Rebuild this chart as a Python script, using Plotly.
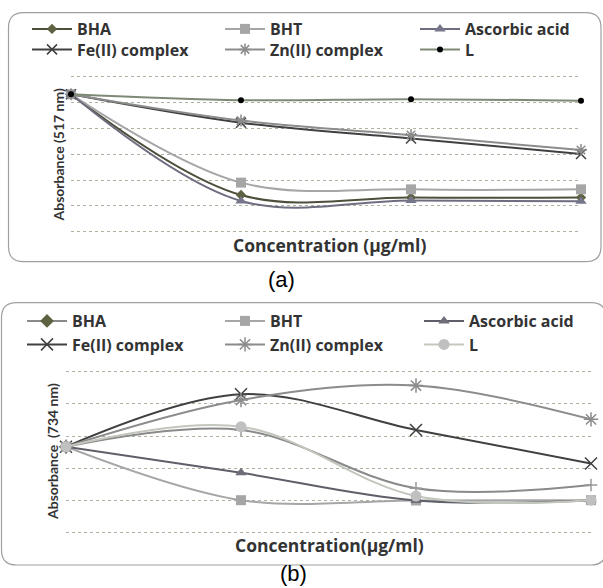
import plotly.graph_objects as go

W, H = 603, 588

# ---------------- data ----------------
conc_index = [0, 1, 2, 3]   # concentration levels (no tick labels shown)

# panel (a): DPPH, absorbance at 517 nm (grid units)
a_BHA = [5.32, 1.42, 1.32, 1.32]
a_BHT = [5.32, 1.90, 1.64, 1.64]
a_Asc = [5.32, 1.19, 1.21, 1.18]
a_Fe = [5.32, 4.22, 3.61, 3.01]
a_Zn = [5.32, 4.30, 3.74, 3.16]
a_L = [5.32, 5.09, 5.13, 5.07]

# panel (b): ABTS, absorbance at 734 nm (grid units)
b_BHA = [2.67, 3.19, 1.38, 1.48]
b_BHT = [2.67, 1.01, 1.00, 1.01]
b_Asc = [2.67, 1.86, 1.00, 1.00]
b_Fe = [2.67, 4.30, 3.19, 2.15]
b_Zn = [2.67, 4.12, 4.57, 3.52]
b_L = [2.67, 3.29, 1.14, 1.01]

names = ["BHA", "BHT", "Ascorbic acid", "Fe(II) complex", "Zn(II) complex", "L"]

# ---------------- helpers ----------------
def px_x(v):
    return v / W

def px_y(v):
    return 1 - v / H

FONT = "Open Sans"
fig = go.Figure()
legends = {}
leg_count = [0]

def new_legend(xp, yp):
    leg_count[0] += 1
    key = "legend" if leg_count[0] == 1 else f"legend{leg_count[0]}"
    legends[key] = dict(
        orientation="v", bgcolor="rgba(0,0,0,0)", borderwidth=0,
        font=dict(family=FONT, size=16, color="#333333", weight="bold"),
        xanchor="left", yanchor="middle", itemwidth=40,
        x=px_x(xp), y=px_y(yp))
    return key

def add(xa, ya, y, name, lpos, line_color, symbol, mcolor, msize, mline=0):
    fig.add_trace(go.Scatter(
        x=conc_index, y=y, name=name, mode="lines+markers",
        xaxis=xa, yaxis=ya, legend=new_legend(*lpos), showlegend=True,
        line=dict(color=line_color, width=2, shape="spline"),
        marker=dict(symbol=symbol, color=mcolor, size=msize,
                    line=dict(width=mline, color=mcolor)),
        cliponaxis=False,
    ))

colx_a = [27, 220, 415]
rowy_a = [29, 49.5]
colx_b = [22, 220, 419]
rowy_b = [321, 344.5]

# panel (a) traces
add("x", "y", a_BHA, names[0], (colx_a[0], rowy_a[0]), "#4d4f3b", "diamond", "#5e6142", 8)
add("x", "y", a_BHT, names[1], (colx_a[1], rowy_a[0]), "#a6a6a6", "square", "#a6a6a6", 10)
add("x", "y", a_Asc, names[2], (colx_a[2], rowy_a[0]), "#6e6e80", "triangle-up", "#76768a", 10)
add("x", "y", a_Fe, names[3], (colx_a[0], rowy_a[1]), "#404040", "x-thin-open", "#404040", 10, 1.5)
add("x", "y", a_Zn, names[4], (colx_a[1], rowy_a[1]), "#8c8c8c", "asterisk-open", "#8c8c8c", 10, 1.5)
add("x", "y", a_L, names[5], (colx_a[2], rowy_a[1]), "#7f8a76", "circle", "#000000", 6)

# panel (b) traces
bha_sym = ["diamond", "cross-thin-open", "cross-thin-open", "cross-thin-open"]
bha_col = ["#5e6142", "#9a9a9a", "#9a9a9a", "#9a9a9a"]
fig.add_trace(go.Scatter(
    x=conc_index, y=b_BHA, name=names[0], mode="lines+markers",
    xaxis="x2", yaxis="y2", legend=new_legend(colx_b[0], rowy_b[0]), showlegend=True,
    line=dict(color="#8a8a8a", width=2, shape="spline"),
    marker=dict(symbol=bha_sym, color=bha_col, size=9,
                line=dict(width=1.5, color=bha_col)),
    cliponaxis=False,
))
add("x2", "y2", b_BHT, names[1], (colx_b[1], rowy_b[0]), "#a6a6a6", "square", "#a6a6a6", 10)
add("x2", "y2", b_Asc, names[2], (colx_b[2], rowy_b[0]), "#5f5f6a", "triangle-up", "#6e6e7a", 10)
add("x2", "y2", b_Fe, names[3], (colx_b[0], rowy_b[1]), "#404040", "x-thin-open", "#404040", 12, 1.5)
add("x2", "y2", b_Zn, names[4], (colx_b[1], rowy_b[1]), "#8c8c8c", "asterisk-open", "#8c8c8c", 12, 1.5)
add("x2", "y2", b_L, names[5], (colx_b[2], rowy_b[1]), "#c2c7bd", "circle", "#c0c0c0", 11)

grid = dict(showgrid=True, gridcolor="#a9b39e", griddash="dot", gridwidth=1,
            zeroline=False, showline=False, showticklabels=False, ticks="", dtick=1)
noax = dict(showgrid=False, zeroline=False, showline=False, showticklabels=False, ticks="")

EXT = 0.04
def ydom(top_px, bot_px, n):
    p = (bot_px - top_px) / n
    return [px_y(bot_px + EXT * p), px_y(top_px - EXT * p)]

fig.update_layout(
    width=W, height=H, margin=dict(l=0, r=0, t=0, b=0),
    paper_bgcolor="white", plot_bgcolor="white", showlegend=True,
    xaxis=dict(domain=[px_x(71), px_x(581)], range=[0, 3], **noax),
    yaxis=dict(domain=ydom(76.7, 231.7, 6), range=[-EXT, 6 + EXT], **grid),
    xaxis2=dict(domain=[px_x(66), px_x(591)], range=[0, 3], anchor="y2", **noax),
    yaxis2=dict(domain=ydom(371.7, 532.7, 5), range=[-EXT, 5 + EXT], anchor="x2", **grid),
    **legends,
)

# rounded panel borders
def rrect(x0, y0, x1, y1, r):
    X = lambda v: v / W
    Y = lambda v: 1 - v / H
    return (f"M{X(x0 + r)},{Y(y0)} L{X(x1 - r)},{Y(y0)} "
            f"Q{X(x1)},{Y(y0)} {X(x1)},{Y(y0 + r)} L{X(x1)},{Y(y1 - r)} "
            f"Q{X(x1)},{Y(y1)} {X(x1 - r)},{Y(y1)} L{X(x0 + r)},{Y(y1)} "
            f"Q{X(x0)},{Y(y1)} {X(x0)},{Y(y1 - r)} L{X(x0)},{Y(y0 + r)} "
            f"Q{X(x0)},{Y(y0)} {X(x0 + r)},{Y(y0)} Z")

for box in [(8.5, 12.7, 601, 261.7), (1.5, 302.7, 606, 565)]:
    fig.add_shape(type="path", xref="paper", yref="paper",
                  path=rrect(*box, 15), line=dict(color="#a0a0a0", width=1.2),
                  layer="below")

def ann(text, xp, yp, size, angle=0, bold=True, family=FONT, color="#333333", yanchor="middle"):
    fig.add_annotation(text=text, x=px_x(xp), y=px_y(yp), xref="paper", yref="paper",
                       showarrow=False, textangle=angle, xanchor="center", yanchor=yanchor,
                       font=dict(family=family, size=size, color=color,
                                 weight="bold" if bold else "normal"))

ann("Absorbance (517 nm)", 57.5, 155, 14, -90, family="Lato")
ann("Concentration (µg/ml)", 330, 245, 17.5)
ann("(a)", 281, 279, 22, bold=False, family="Liberation Sans", color="#000000")
ann("Absorbance  (734 nm)", 52, 452, 14, -90, family="Lato")
ann("Concentration(µg/ml)", 330, 545, 17.5)
ann("(b)", 293, 587.5, 22, bold=False, family="Liberation Sans", color="#000000",
    yanchor="bottom")

fig.write_html("out.html", config={"displayModeBar": False},
               post_script="document.body.style.margin='0';document.body.style.overflow='hidden';")
